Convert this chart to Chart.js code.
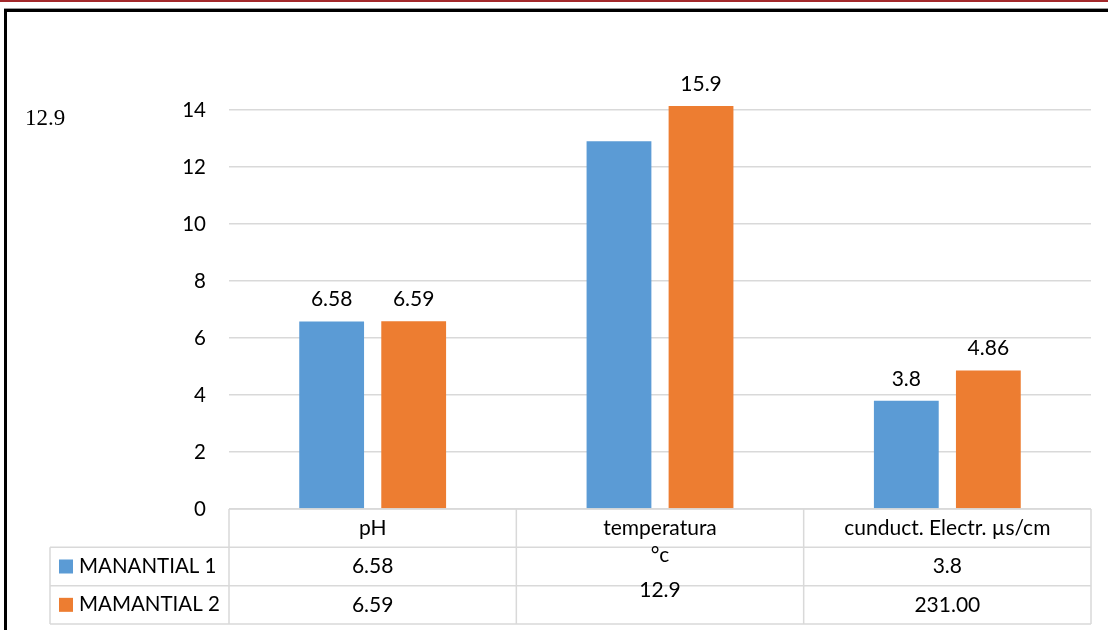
<!DOCTYPE html>
<html lang="es">
<head>
<meta charset="utf-8">
<title>Parámetros de manantiales</title>
<script src="https://cdn.jsdelivr.net/npm/chart.js@4.4.1/dist/chart.umd.min.js"></script>
<style>
  html, body { margin: 0; padding: 0; background: #fff; }
  #wrap { position: relative; width: 1108px; height: 630px; overflow: hidden; }
  #chart { position: absolute; left: 0; top: 0; }
  .rule-red { position: absolute; left: 0; top: 0; width: 1108px; height: 2px; background: #a3282b; }
  .frame-shade { position: absolute; left: 4px; top: 8px; width: 1104px; height: 1px; background: #9a9a9a; }
  .frame-top { position: absolute; left: 4px; top: 9px; width: 1104px; height: 3px; background: #000; }
  .frame-left { position: absolute; left: 4px; top: 9px; width: 3px; height: 621px; background: #000; }
  .side-note { position: absolute; left: 25px; top: 106px; font: 23px/23px "Liberation Serif", "Times New Roman", serif; color: #000; }
</style>
</head>
<body>
<div id="wrap">
  <canvas id="chart" width="1108" height="630"></canvas>
  <div class="rule-red"></div>
  <div class="frame-shade"></div>
  <div class="frame-top"></div>
  <div class="frame-left"></div>
  <div class="side-note" id="sideNote"></div>
</div>
<script>
// Categories (multi-line header labels) and the two spring series
const categories = [['pH'], ['temperatura', '°c'], ['cunduct. Electr. µs/cm']];
const seriesNames = ['MANANTIAL 1', 'MAMANTIAL 2'];
const manantial1 = [6.58, 12.9, 3.8];
const manantial2 = [6.59, 15.9, 4.86];
// Which bars carry a value label above them
const labelled1 = [true, false, true];
const labelled2 = [true, true, true];
// Data table text under the axis (temperature column is one merged cell)
const tableRow1 = ['6.58', null, '3.8'];
const tableRow2 = ['6.59', null, '231.00'];
const mergedTemperature = '12.9';
// Y axis ticks
const yTicks = [0, 2, 4, 6, 8, 10, 12, 14];
const sideNote = '12.9';

const BLUE = '#5b9bd5';
const ORANGE = '#ed7d31';
const GRID = '#d9d9d9';
const FONT = 'Lato, "Open Sans", sans-serif';

document.getElementById('sideNote').textContent = sideNote;

// Value labels above each bar (clipped bars use the top of the plot area)
const valueLabels = {
  id: 'valueLabels',
  afterDatasetsDraw(chart) {
    const ctx = chart.ctx;
    const area = chart.chartArea;
    const flags = [labelled1, labelled2];
    ctx.save();
    ctx.font = '21px ' + FONT;
    ctx.fillStyle = '#000';
    ctx.textAlign = 'center';
    ctx.textBaseline = 'alphabetic';
    chart.data.datasets.forEach((ds, di) => {
      chart.getDatasetMeta(di).data.forEach((bar, i) => {
        if (!flags[di][i]) return;
        const top = Math.max(bar.y, area.top);
        ctx.fillText(String(ds.data[i]), bar.x, top - 15);
      });
    });
    ctx.restore();
  }
};

// Data table with legend keys below the plot area
const dataTable = {
  id: 'dataTable',
  afterDraw(chart) {
    const ctx = chart.ctx;
    const x = chart.scales.x;
    const area = chart.chartArea;
    const n = chart.data.labels.length;
    const colW = (x.right - x.left) / n;
    const top = area.bottom;
    const bottom = chart.height - 6;
    const rowH = (bottom - top) / 3;
    const legendLeft = 50;
    const edge = i => x.getPixelForValue(i) - colW / 2;

    ctx.save();
    ctx.strokeStyle = GRID;
    ctx.lineWidth = 1.5;
    const line = (x1, y1, x2, y2) => { ctx.beginPath(); ctx.moveTo(x1, y1); ctx.lineTo(x2, y2); ctx.stroke(); };
    line(x.left, top, x.right, top);
    for (let r = 1; r <= 3; r++) line(legendLeft, top + r * rowH, x.right, top + r * rowH);
    line(legendLeft, top + rowH, legendLeft, bottom);
    for (let i = 0; i <= n; i++) { const ex = i < n ? edge(i) : x.right; line(ex, top, ex, bottom); }

    ctx.fillStyle = '#000';
    ctx.font = '21px ' + FONT;
    ctx.textAlign = 'center';
    ctx.textBaseline = 'middle';
    // header labels
    chart.data.labels.forEach((lab, i) => {
      const cx = x.getPixelForValue(i);
      const lines = Array.isArray(lab) ? lab : [lab];
      lines.forEach((t, k) => ctx.fillText(t, cx, top + rowH / 2 + k * 27));
    });
    // body values
    [tableRow1, tableRow2].forEach((row, r) => {
      row.forEach((t, i) => {
        if (t === null) return;
        ctx.fillText(t, x.getPixelForValue(i), top + rowH * (r + 1.5));
      });
    });
    ctx.fillText(mergedTemperature, x.getPixelForValue(1), top + rowH * 2 + 5);

    // legend keys
    ctx.textAlign = 'left';
    ctx.font = '20.5px ' + FONT;
    chart.data.datasets.forEach((ds, di) => {
      const cy = top + rowH * (di + 1.5);
      ctx.fillStyle = ds.backgroundColor;
      ctx.fillRect(59, cy - 7, 14, 14);
      ctx.fillStyle = '#000';
      ctx.fillText(ds.label, 79, cy);
    });
    ctx.restore();
  }
};

function draw() {
  new Chart(document.getElementById('chart'), {
    type: 'bar',
    data: {
      labels: categories,
      datasets: [
        { label: seriesNames[0], data: manantial1, backgroundColor: BLUE, clip: 0 },
        { label: seriesNames[1], data: manantial2, backgroundColor: ORANGE, clip: 0 }
      ]
    },
    options: {
      responsive: false,
      animation: false,
      layout: { padding: { left: 0, right: 17, top: 106, bottom: 0 } },
      datasets: { bar: { categoryPercentage: 0.571, barPercentage: 0.79 } },
      plugins: { legend: { display: false }, tooltip: { enabled: false } },
      scales: {
        x: {
          grid: { display: false },
          border: { display: false },
          ticks: { display: false },
          afterFit(s) { s.height = 121; }
        },
        y: {
          min: 0,
          max: 14.14,
          afterBuildTicks(s) { s.ticks = yTicks.map(v => ({ value: v })); },
          afterFit(s) { s.width = 229; },
          grid: { color: GRID, lineWidth: 1.4, drawTicks: false },
          border: { display: false },
          ticks: { padding: 23, color: '#000', font: { family: FONT, size: 20.5 } }
        }
      }
    },
    plugins: [valueLabels, dataTable]
  });
}

if (document.fonts && document.fonts.load) {
  Promise.all([
    document.fonts.load('21px Lato'),
    document.fonts.load('23px "Liberation Serif"')
  ]).then(draw, draw);
} else {
  draw();
}
</script>
</body>
</html>
